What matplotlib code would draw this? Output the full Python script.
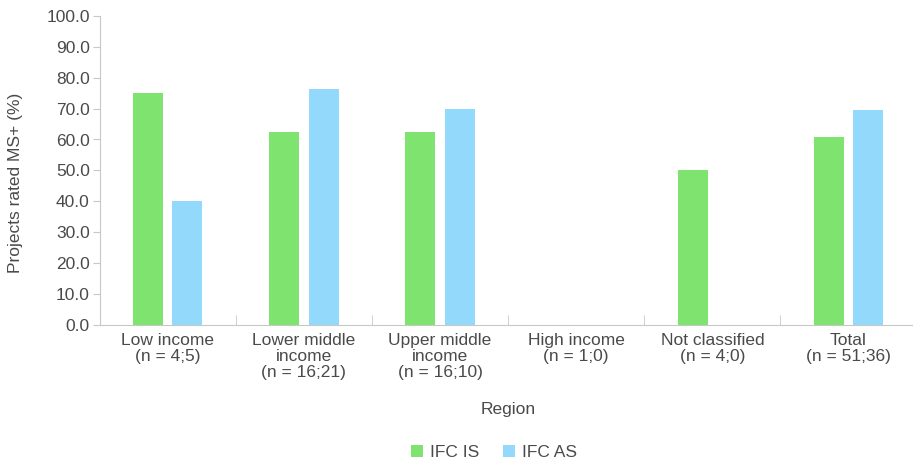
import numpy as np
import matplotlib
matplotlib.use('Agg')
import matplotlib.pyplot as plt

# Data
categories = ['Low income\n(n = 4;5)', 'Lower middle\nincome\n(n = 16;21)',
              'Upper middle\nincome\n(n = 16;10)', 'High income\n(n = 1;0)',
              'Not classified\n(n = 4;0)', 'Total\n(n = 51;36)']
ifc_is = [75.0, 62.5, 62.5, np.nan, 50.0, 60.8]
ifc_as = [40.0, 76.2, 70.0, np.nan, np.nan, 69.4]

green = '#7fe36f'
blue = '#92d9fb'
text_col = '#4a4a4a'
axis_col = '#c8c8c8'

plt.rcParams['font.family'] = ['Liberation Sans', 'DejaVu Sans']
plt.rcParams['font.size'] = 12.5

fig = plt.figure(figsize=(9.13, 4.65), dpi=100)
ax = fig.add_axes([0.109, 0.301, 0.895, 0.665])

x = np.arange(len(categories))
w = 0.22
off = 0.145
ax.bar(x - off, ifc_is, width=w, color=green, label='IFC IS')
ax.bar(x + off, ifc_as, width=w, color=blue, label='IFC AS')

ax.set_xlim(-0.5, 5.5)
ax.set_ylim(0, 100)
ax.set_yticks(np.arange(0, 101, 10))
ax.set_yticklabels(['%.1f' % v for v in np.arange(0, 101, 10)], color=text_col)

ax.set_xticks(x)
ax.set_xticklabels(categories, color=text_col, linespacing=1.05)
ax.set_xticks(x[:-1] + 0.5, minor=True)
ax.tick_params(axis='x', which='major', length=0, pad=6)
ax.tick_params(axis='x', which='minor', direction='in', length=7, color=axis_col)
ax.tick_params(axis='y', length=5, color=axis_col, pad=2)

for s in ['top', 'right']:
    ax.spines[s].set_visible(False)
for s in ['left', 'bottom']:
    ax.spines[s].set_color(axis_col)

ax.set_ylabel('Projects rated MS+ (%)', color=text_col)
ax.yaxis.set_label_coords(-0.094, 0.46)
ax.set_xlabel('Region', color=text_col, labelpad=16)

leg = fig.legend(loc='center', bbox_to_anchor=(0.541, 0.026), ncol=2,
                 frameon=False, handlelength=0.7, handleheight=0.7,
                 handletextpad=0.4, columnspacing=1.4, borderpad=0)
for t in leg.get_texts():
    t.set_color(text_col)

fig.savefig('out.png', dpi=100)
